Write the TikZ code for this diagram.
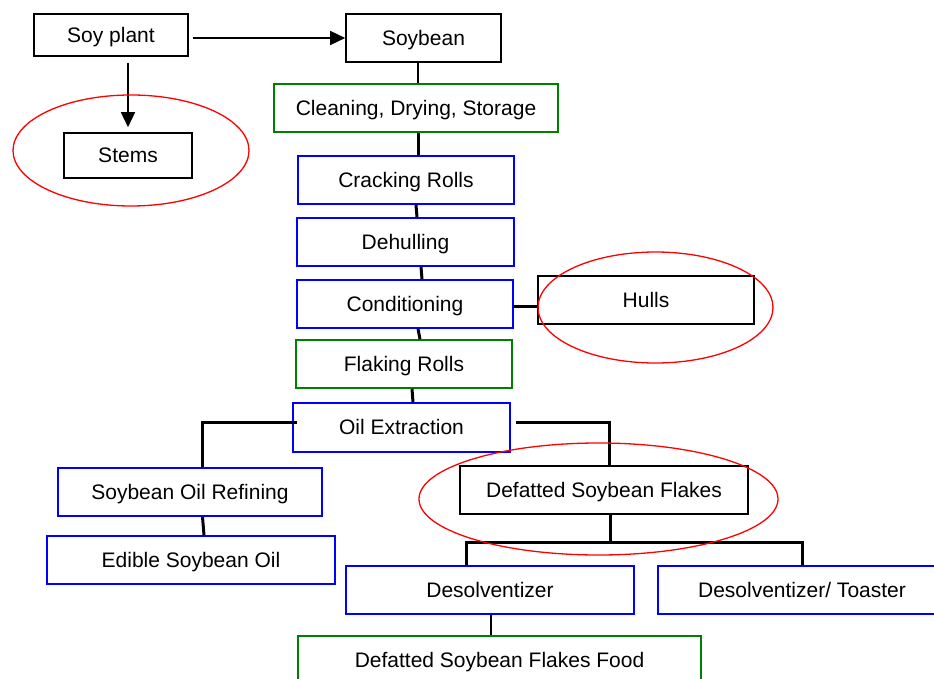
\documentclass[tikz,border=0pt]{standalone}
\usepackage{fontspec}
\setmainfont{Liberation Sans}
\usetikzlibrary{arrows.meta,calc}
\definecolor{dblue}{RGB}{0,0,255}
\definecolor{dgreen}{RGB}{0,128,0}
\definecolor{dred}{RGB}{255,0,0}
\begin{document}
\begin{tikzpicture}[x=1pt,y=-1pt,
  box/.style={draw=#1, line width=1.6pt, rectangle, inner sep=0pt, text height=18.5pt, text depth=4pt, font=\fontsize{21}{25}\selectfont, anchor=center},
  conn/.style={draw=black, line width=3pt},
  arr/.style={draw=black, line width=1.5pt, -{Triangle[length=15pt,width=14pt]}},
  ring/.style={draw=dred, line width=1.3pt}]
\clip (0,0) rectangle (934,679);
\fill[white] (0,0) rectangle (934,679);
% boxes
\node[box=black, minimum width=154pt, minimum height=42pt] (sp) at (111,35) {Soy plant};
\node[box=black, minimum width=155pt, minimum height=48pt] (sb) at (423.5,38) {Soybean};
\node[box=black, minimum width=128pt, minimum height=45pt] (stems) at (128,155.5) {Stems};
\node[box=dgreen, minimum width=284pt, minimum height=48pt] (clean) at (416,108) {Cleaning, Drying, Storage};
\node[box=dblue, minimum width=216pt, minimum height=48pt] (crack) at (406,180) {Cracking Rolls};
\node[box=dblue, minimum width=217pt, minimum height=48pt] (dehull) at (405.5,242) {Dehulling};
\node[box=dblue, minimum width=216pt, minimum height=48pt] (cond) at (405,304) {Conditioning};
\node[box=black, minimum width=216pt, minimum height=48pt] (hulls) at (646,300) {Hulls};
\node[box=dgreen, minimum width=216pt, minimum height=48pt] (flake) at (404,364) {Flaking Rolls};
\node[box=dblue, minimum width=217pt, minimum height=49pt] (oil) at (401.5,427.5) {Oil Extraction};
\node[box=dblue, minimum width=264pt, minimum height=48pt] (refine) at (190,492) {Soybean Oil Refining};
\node[box=dblue, minimum width=288pt, minimum height=48pt] (edible) at (191,560) {Edible Soybean Oil};
\node[box=black, minimum width=288pt, minimum height=48pt] (defat) at (604,490) {Defatted Soybean Flakes};
\node[box=dblue, minimum width=288pt, minimum height=48pt] (desolv) at (490,590) {Desolventizer};
\node[box=dblue, minimum width=288pt, minimum height=48pt] (dt) at (802,590) {Desolventizer/ Toaster};
\node[box=dgreen, minimum width=403pt, minimum height=48pt] (food) at (499.5,660) {Defatted Soybean Flakes Food};
% arrows
\draw[arr] ([xshift=4pt,yshift=-3pt]sp.east) -- (sb.west);
\draw[arr] ([xshift=17pt,yshift=-6pt]sp.south) -- ([yshift=5pt]stems.north);
% connectors
\draw[conn, line width=2pt] ([xshift=-5.5pt]sb.south) -- ([xshift=2pt]clean.north);
\draw[conn] ([xshift=2pt]clean.south) -- ([xshift=12pt]crack.north);
\draw[conn] ([xshift=10pt]crack.south) -- ([xshift=11.5pt]dehull.north);
\draw[conn] ([xshift=15.5pt]dehull.south) -- ([xshift=17pt]cond.north);
\draw[conn] ([xshift=13pt]cond.south) -- ([xshift=16pt]flake.north);
\draw[conn] ([xshift=8pt]flake.south) -- ([xshift=11.5pt]oil.north);
\draw[conn] ([yshift=-2pt]cond.east) -- ([yshift=-2pt]hulls.west |- cond.east);
\draw[conn] ([xshift=5pt,yshift=5.5pt]oil.west) -| ([xshift=12.5pt]refine.north);
\draw[conn] ([xshift=5pt,yshift=5.5pt]oil.east) -| ([xshift=5.5pt]defat.north);
\draw[conn] ([xshift=12.5pt]refine.south) -- ([xshift=13pt]edible.north);
\coordinate (split) at ([xshift=6pt,yshift=-28pt]defat.south);
\draw[conn] ([xshift=6pt]defat.south) -- (split);
\draw[conn] ([xshift=-24pt]desolv.north) |- (split -| dt.north) -- (dt.north);
\draw[conn, line width=2.5pt] ([xshift=1pt]desolv.south) -- ([xshift=-8.5pt]food.north);
% rings
\draw[ring] (131,150.5) ellipse [x radius=118pt, y radius=55.5pt];
\draw[ring] (655.5,307.5) ellipse [x radius=117.5pt, y radius=55.5pt];
\draw[ring] (598.5,499) ellipse [x radius=179.5pt, y radius=56pt];
\end{tikzpicture}
\end{document}
